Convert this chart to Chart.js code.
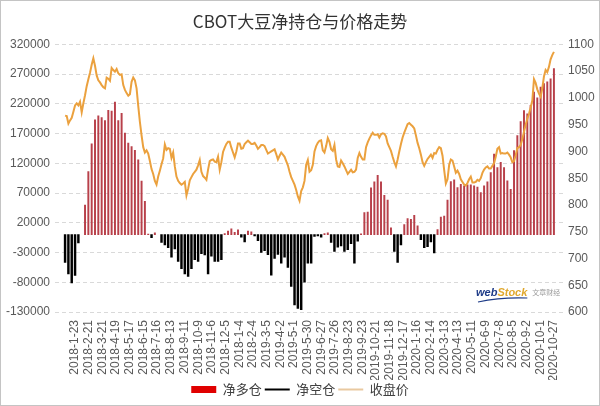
<!DOCTYPE html>
<html><head><meta charset="utf-8">
<script src="https://cdn.jsdelivr.net/npm/chart.js@4.4.0/dist/chart.umd.min.js"></script>
<style>html,body{margin:0;padding:0;background:#fff}canvas{display:block}</style>
</head><body>
<canvas id="c" width="600" height="406"></canvas>
<script>
// ---- data ----
const chartTitle = 'CBOT大豆净持仓与价格走势';
const seriesNames = ['净多仓', '净空仓', '收盘价'];
const tickLabels = ['2018-1-23','2018-2-21','2018-3-21','2018-4-19','2018-5-17','2018-6-15','2018-7-16','2018-8-13','2018-9-11','2018-10-9','2018-11-6','2018-12-5','2018-1-4','2018-2-4','2019-3-5','2019-4-2','2019-5-1','2019-5-30','2019-6-27','2019-7-26','2019-8-23','2019-9-23','2019-10-21','2019-11-18','2019-12-17','2020-1-16','2020-2-14','2020-3-13','2020-4-13','2020-5-11','2020-6-9','2020-7-8','2020-8-5','2020-9-2','2020-10-1','2020-10-27'];
// weekly net position (contracts), one per week
const netPositions = [
-46500,-66000,-81000,-68500,-14000,0,50000,106000,153000,193000,
200000,197000,192000,209000,208000,223000,192000,204000,171000,154000,
148000,142000,126000,90000,56000,1000,-5000,3000,0,-13000,
-17000,-22000,-38000,-24000,-45000,-57000,-66000,-70000,-57000,-42000,
-45000,-32000,-34000,-66000,-36000,-45000,-45000,-42000,2000,6000,
10000,4000,8000,-4000,-12000,6000,5000,-2000,-10000,-30000,
-27000,-33500,-68000,-40000,-33000,-48000,-38000,-55000,-87000,-118000,
-124000,-126000,-80000,-48000,-48000,-3000,-2000,-4000,2000,3000,
-13000,-28000,-21000,-19000,-28000,-25000,-15000,-48000,-11000,1500,
37000,38000,79000,89000,100000,89000,66000,58000,11600,-28000,
-46500,-17000,17000,27000,26000,32500,15000,-8500,-22000,-20000,
-12000,-30700,8800,29600,31300,58400,89400,92200,79200,84900,
82000,83700,84000,82000,80000,70800,82000,88800,104600,135600,
113000,121500,113000,90500,76400,141300,166600,190300,208900,203300,
217400,240000,230000,248400,254000,257000,262000,279400];
// closing price, two readings per week
const closePrices = [
967,966,952,958,963,974,986,990,986,993,
973,990,1005,1022,1035,1047,1062,1074,1060,1042,
1033,1029,1024,1020,1018,1038,1036,1032,1056,1052,
1049,1054,1046,1043,1044,1024,1015,1009,1004,1007,
1030,1038,1033,1018,985,955,930,908,898,902,
896,882,867,858,845,838,853,864,876,887,
913,903,906,905,888,898,872,853,845,841,
838,840,843,818,830,846,852,858,862,866,
874,884,862,854,851,847,866,882,884,885,
881,880,890,866,880,899,907,914,918,918,
907,898,889,900,915,915,905,906,914,917,
920,917,914,914,916,911,905,908,912,912,
910,903,896,898,900,902,904,895,885,892,
898,894,890,882,874,862,852,845,838,828,
816,808,826,833,845,875,884,862,865,875,
900,910,916,920,921,902,898,910,925,918,
904,901,912,885,872,871,883,878,872,865,
858,862,866,861,862,866,888,897,890,885,
885,908,917,924,930,935,931,931,932,926,
932,934,933,928,915,908,901,890,880,872,
885,900,914,926,935,943,951,953,950,947,
943,930,916,906,894,880,873,880,886,890,
894,888,897,896,903,908,906,892,865,840,
848,875,885,883,872,860,864,858,848,843,
838,836,841,848,853,842,842,843,847,845,
850,860,866,870,872,868,868,873,878,890,
905,908,896,897,896,896,898,894,889,880,
882,893,906,908,912,923,937,950,961,970,
982,995,1035,1028,1016,1008,1002,1018,1040,1052,
1048,1058,1072,1080,1086];

// ---- derived ----
const longData = netPositions.map((v, i) => ({x: i, y: v > 0 ? v : null}));
const shortData = netPositions.map((v, i) => ({x: i, y: v < 0 ? v : null}));
const priceData = closePrices.map((v, j) => ({x: j / 2, y: v}));
const weeksSpan = netPositions.length - 1;

const RED = '#B8404A', BLACK = '#000000', ORANGE = '#EBA13E';
const LATIN = "'Liberation Sans', 'Noto Sans CJK SC', sans-serif";
const CJK = "'Noto Sans CJK SC', sans-serif";
Chart.defaults.font.family = LATIN;

const frame = {
  id: 'frame',
  afterDraw(chart) {
    const c = chart.ctx;
    c.save();
    c.strokeStyle = '#c4c4c4'; c.lineWidth = 1;
    c.strokeRect(0.5, 0.5, chart.width - 1, chart.height - 1);
    c.restore();
  }
};
const watermark = {
  id: 'watermark',
  beforeDatasetsDraw(chart) {
    const c = chart.ctx;
    const x0 = chart.chartArea.right - 89, y0 = chart.chartArea.bottom - 16;
    c.save();
    c.textBaseline = 'alphabetic';
    c.font = "bold italic 11px 'Liberation Sans', sans-serif";
    c.fillStyle = '#1f3c88';
    c.fillText('web', x0, y0);
    const w1 = c.measureText('web').width;
    c.fillStyle = '#e0a82e';
    c.fillText('Stock', x0 + w1, y0);
    const w2 = c.measureText('Stock').width;
    c.font = "7px 'Noto Sans CJK SC', sans-serif";
    c.fillStyle = '#9a9a9a';
    c.fillText('文章财经', x0 + w1 + w2 + 5, y0 - 1);
    c.strokeStyle = '#1f3c88'; c.lineWidth = 1.2;
    c.beginPath();
    c.moveTo(x0 + 2, y0 + 6);
    c.quadraticCurveTo(x0 + 25, y0 + 1, x0 + w1 + w2, y0 + 2);
    c.stroke();
    c.restore();
  }
};

new Chart(document.getElementById('c'), {
  data: {
    datasets: [
      {type: 'line', label: seriesNames[2], data: priceData, yAxisID: 'y1', xAxisID: 'x',
       borderColor: ORANGE, borderWidth: 2, pointRadius: 0, tension: 0, order: 0},
      {type: 'bar', label: seriesNames[0], data: longData, yAxisID: 'y', xAxisID: 'x',
       backgroundColor: RED, barThickness: 1.3, grouped: false, order: 1},
      {type: 'bar', label: seriesNames[1], data: shortData, yAxisID: 'y', xAxisID: 'x',
       backgroundColor: BLACK, barThickness: 1.8, grouped: false, order: 2}
    ]
  },
  options: {
    responsive: false, animation: false, devicePixelRatio: 1,
    layout: {padding: {left: 0, right: 0, top: 0, bottom: 0}},
    plugins: {
      title: {display: true, text: chartTitle, color: '#333333',
              font: {size: 17, family: CJK, weight: 'normal'}, padding: {top: 11, bottom: 13}},
      legend: {position: 'bottom',
        labels: {usePointStyle: true, pointStyleWidth: 25, boxHeight: 7, padding: 3,
          color: '#404040', font: {size: 13, family: CJK},
          generateLabels: () => [
            {text: seriesNames[0], fillStyle: '#E00000', strokeStyle: '#E00000', lineWidth: 0, pointStyle: 'rect', datasetIndex: 1, fontColor: '#404040'},
            {text: seriesNames[1], fillStyle: BLACK, strokeStyle: BLACK, lineWidth: 2, pointStyle: 'line', datasetIndex: 2, fontColor: '#404040'},
            {text: seriesNames[2], fillStyle: '#E9C9A0', strokeStyle: '#E9C9A0', lineWidth: 2, pointStyle: 'line', datasetIndex: 0, fontColor: '#404040'}
          ]}},
      tooltip: {enabled: false}
    },
    scales: {
      x: {type: 'linear', min: -0.9, max: weeksSpan + 1.2,
          grid: {display: false, drawTicks: false}, border: {display: false},
          afterBuildTicks: s => { s.ticks = tickLabels.map((l, i) => ({value: 3 + i * (weeksSpan - 3) / (tickLabels.length - 1)})); },
          ticks: {autoSkip: false, minRotation: 90, maxRotation: 90, padding: 8, color: '#595959',
                  font: {size: 12}, callback: (v, i) => tickLabels[i]},
          afterFit: s => { s.height = 68; }},
      y: {position: 'left', min: -130000, max: 320000,
          ticks: {stepSize: 50000, padding: 5, color: '#595959', font: {size: 12}, callback: v => String(v)},
          grid: {color: '#d9d9d9', lineWidth: 1, drawTicks: false},
          border: {display: false, dash: [4, 3]},
          afterFit: s => { s.width = 55; }},
      y1: {position: 'right', min: 600, max: 1100,
           ticks: {stepSize: 50, padding: 3, color: '#595959', font: {size: 12}, callback: v => String(v)},
           grid: {display: false, drawTicks: false}, border: {display: false},
           afterFit: s => { s.width = 35; }}
    }
  },
  plugins: [frame, watermark]
});
</script>
</body></html>
